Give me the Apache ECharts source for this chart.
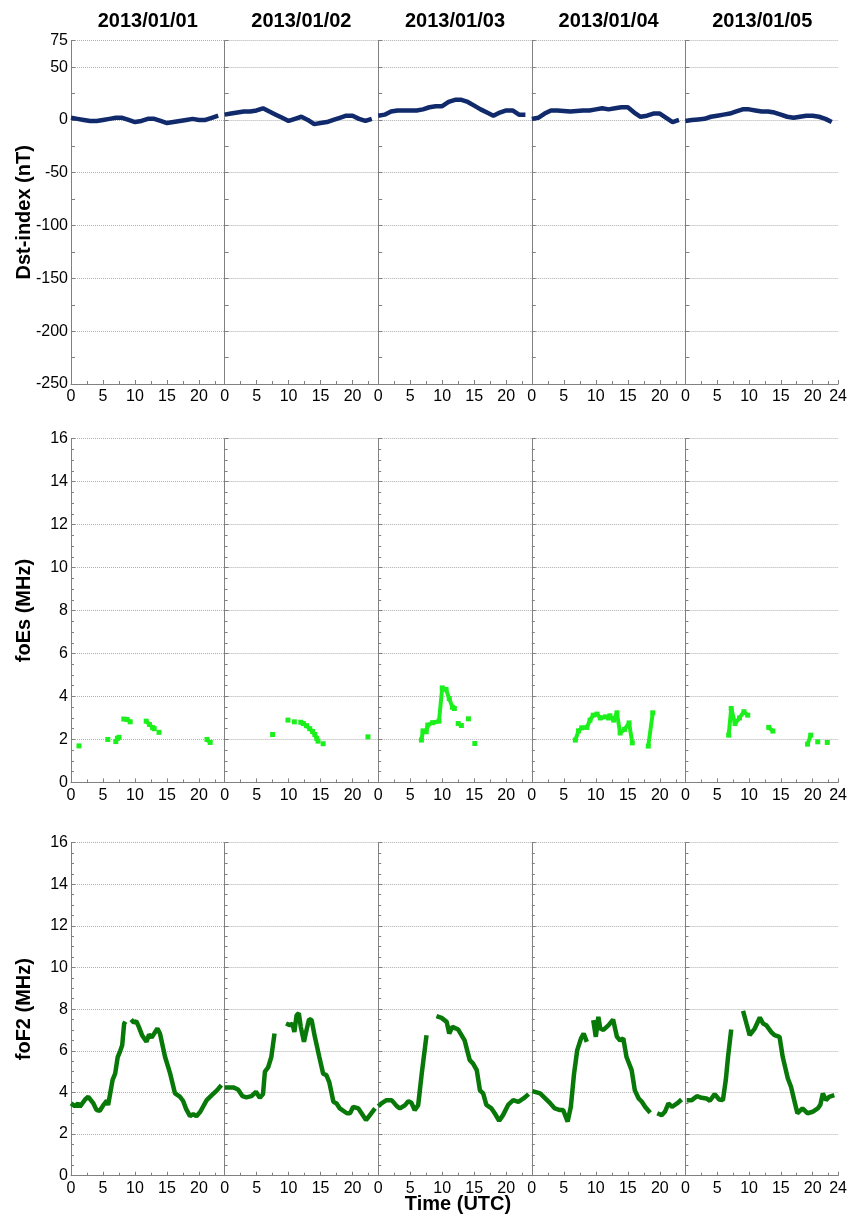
<!DOCTYPE html>
<html><head><meta charset="utf-8">
<script src="https://cdn.jsdelivr.net/npm/echarts@6/dist/echarts.min.js"></script>
<style>html,body{margin:0;padding:0;background:#fff}#c{width:850px;height:1216px}</style>
</head><body><div id="c"></div><script>
// ---------------- data ----------------
const days = ['2013/01/01', '2013/01/02', '2013/01/03', '2013/01/04', '2013/01/05'];
const xTicks = [0, 5, 10, 15, 20, 24];

// Dst-index (nT), hourly values at UTC hours 0..23
const dstDay1 = [2, 1, 0, -1, -1, 0, 1, 2, 2, 0, -2, -1, 1, 1, -1, -3, -2, -1, 0, 1, 0, 0, 2, 4];
const dstDay2 = [5, 6, 7, 8, 8, 9, 11, 8, 5, 2, -1, 1, 3, 0, -4, -3, -2, 0, 2, 4, 4, 1, -1, 1];
const dstDay3 = [4, 5, 8, 9, 9, 9, 9, 10, 12, 13, 13, 17, 19, 19, 17, 13.5, 10, 7, 4, 7, 9, 9, 5, 5];
const dstDay4 = [1, 2, 6, 9, 9, 8.5, 8, 8.5, 9, 9, 10, 11, 10, 11, 12, 12, 7, 3, 4, 6, 6, 2, -2, 0];
const dstDay5 = [-1, 0, 0.5, 1, 3, 4, 5, 6, 8, 10, 10, 9, 8, 8, 7, 5, 3, 2, 3, 4, 4, 3, 1, -2];

// foEs (MHz): [hour, value]; null = gap
const foEsDay1 = [[1.25,1.7],null,[5.75,2.0],null,[7.0,1.9],[7.25,2.05],[7.5,2.1],null,[8.25,2.95],[8.75,2.93],[9.25,2.82],null,[11.75,2.85],[12.25,2.7],[12.75,2.55],[13.0,2.5],null,[13.75,2.33],null,[21.25,2.0],[21.75,1.86]];
const foEsDay2 = [[7.5,2.23],null,[9.9,2.9],null,[10.9,2.82],null,[11.9,2.8],[12.3,2.74],[12.8,2.64],[13.3,2.5],[13.75,2.37],[14.1,2.23],[14.4,2.05],[14.6,1.92],null,[15.4,1.8],null,[22.4,2.12]];
const foEsDay3 = [[6.75,1.97],[7.0,2.4],[7.5,2.36],[7.75,2.67],[8.5,2.78],[9.5,2.85],[10.0,4.4],[10.6,4.33],[11.1,3.9],[11.6,3.5],[11.9,3.44],null,[12.5,2.74],[13.0,2.65],null,[14.1,2.96],null,[15.1,1.81]];
const foEsDay4 = [[6.8,1.97],[7.3,2.4],[7.8,2.54],[8.6,2.56],[9.1,2.9],[9.6,3.13],[10.2,3.18],[10.7,3.0],[11.5,3.05],[12.0,3.0],[12.2,3.1],[12.8,2.9],[13.3,3.24],[13.8,2.3],[14.5,2.47],[15.2,2.77],[15.7,1.84],null,[18.2,1.69],[18.9,3.24]];
const foEsDay5 = [[6.8,2.2],[7.2,3.44],[7.8,2.74],[8.5,3.0],[9.2,3.29],[9.8,3.13],null,[13.1,2.56],[13.75,2.39],null,[19.2,1.78],[19.7,2.2],null,[20.8,1.89],null,[22.3,1.86]];

// foF2 (MHz): [hour, value]; null = gap
const foF2Day1 = [[0,3.47],[0.6,3.34],[1.1,3.47],[1.4,3.31],[2.2,3.66],[2.7,3.79],[3.5,3.47],[4.0,3.15],[4.5,3.12],[5.05,3.39],[5.6,3.6],[5.8,3.39],[6.1,3.34],[6.5,4.6],[6.9,4.9],[7.3,5.7],[7.7,6.0],[8.0,6.27],[8.3,7.3],[8.5,7.4],null,[9.4,7.5],[9.8,7.36],[10.2,7.42],[10.6,7.15],[11.1,6.75],[11.8,6.43],[12.2,6.78],[12.6,6.64],[13.0,6.83],[13.5,7.07],[13.9,6.83],[14.7,5.7],[15.5,4.9],[16.25,3.95],[17.0,3.8],[17.5,3.6],[18.0,3.2],[18.6,2.86],[19.1,2.96],[19.6,2.86],[20.2,3.07],[21.2,3.63],[22.0,3.87],[22.8,4.1],[23.5,4.35]];
const foF2Day2 = [[0,4.24],[1.35,4.24],[2.1,4.14],[2.8,3.82],[3.4,3.76],[4.2,3.82],[4.9,4.03],[5.5,3.74],[6.0,3.92],[6.3,5.0],[6.8,5.2],[7.3,5.7],[7.8,6.83],null,[9.6,7.31],[10.2,7.23],[10.6,7.31],[10.9,6.9],[11.25,7.71],[11.6,7.8],[11.9,7.15],[12.4,6.43],[12.8,7.0],[13.2,7.52],[13.6,7.47],[14.1,6.67],[14.8,5.7],[15.4,4.9],[15.9,4.83],[16.35,4.5],[17.0,3.55],[17.5,3.47],[18.0,3.23],[19.1,3.0],[19.6,3.0],[20.1,3.31],[20.9,3.23],[21.4,3.0],[22.1,2.67],[22.7,2.91],[23.5,3.23]];
const foF2Day3 = [[0,3.34],[0.5,3.47],[1.3,3.63],[2.1,3.63],[2.9,3.34],[3.4,3.23],[4.2,3.39],[4.7,3.58],[5.2,3.5],[5.7,3.15],[6.25,3.39],[6.8,4.9],[7.55,6.75],null,[9.1,7.66],[9.9,7.58],[10.7,7.39],[11.1,6.83],[11.6,7.15],[12.5,7.02],[13.5,6.5],[14.3,5.55],[14.8,5.4],[15.4,5.07],[15.9,4.1],[16.4,3.95],[16.9,3.4],[17.7,3.23],[18.2,3.0],[18.9,2.64],[19.5,2.91],[20.3,3.4],[21.1,3.63],[21.9,3.55],[22.7,3.71],[23.5,3.92]];
const foF2Day4 = [[0.1,4.06],[1.3,3.95],[2.1,3.71],[2.9,3.47],[3.6,3.23],[4.4,3.15],[4.9,3.15],[5.6,2.6],[6.1,3.31],[6.6,4.9],[7.1,6.03],[7.7,6.6],[8.1,6.83],[8.6,6.43],null,[9.6,7.47],[10.0,6.67],[10.4,7.63],[10.7,7.07],[11.2,7.0],[12.0,7.23],[12.7,7.5],[13.3,6.67],[13.8,6.5],[14.3,6.6],[14.8,5.7],[15.6,5.07],[16.1,4.1],[16.7,3.71],[17.2,3.55],[17.7,3.31],[18.5,3.02],null,[19.6,3.0],[20.3,2.91],[20.8,3.07],[21.35,3.47],[21.9,3.31],[22.7,3.47],[23.4,3.66]];
const foF2Day5 = [[0.2,3.63],[1.0,3.63],[1.8,3.82],[2.55,3.74],[3.3,3.71],[3.85,3.6],[4.6,3.92],[5.3,3.66],[5.9,3.63],[6.35,4.6],[6.7,5.7],[7.2,7.02],null,[9.06,7.92],[9.6,7.31],[10.1,6.75],[10.9,7.07],[11.7,7.6],[12.2,7.31],[12.7,7.23],[13.5,6.9],[14.0,6.75],[14.8,6.67],[15.3,5.7],[16.1,4.67],[16.6,4.27],[17.1,3.63],[17.6,3.0],[18.4,3.23],[19.2,3.0],[20.0,3.07],[20.8,3.23],[21.2,3.4],[21.6,3.95],[22.1,3.63],[22.6,3.79],[23.4,3.87]];

// ---------------- chart ----------------
const dstDays = [dstDay1, dstDay2, dstDay3, dstDay4, dstDay5];
const foEsDays = [foEsDay1, foEsDay2, foEsDay3, foEsDay4, foEsDay5];
const foF2Days = [foF2Day1, foF2Day2, foF2Day3, foF2Day4, foF2Day5];

const FONT = '"Liberation Sans", Arial, sans-serif';
const AX = '#808080';
const GL = 71, GW = 153.6;
const rows = [
  {top: 40.7, h: 343.3, name: 'Dst-index (nT)'},
  {top: 438.7, h: 343.7, name: 'foEs (MHz)'},
  {top: 842.6, h: 333.1, name: 'foF2 (MHz)'}
];

function toSeriesData(arr) { return arr.map(p => p === null ? ['-', '-'] : p); }

const grids = [], xAxes = [], yAxes = [], series = [];
for (let r = 0; r < 3; r++) {
  for (let c = 0; c < 5; c++) {
    const gi = grids.length;
    grids.push({left: GL + c * GW, top: rows[r].top, width: GW, height: rows[r].h, containLabel: false});
    xAxes.push({
      gridIndex: gi, type: 'value', min: 0, max: 24, interval: 5,
      axisLine: {show: true, onZero: false, lineStyle: {color: AX, width: 1}},
      axisTick: {show: true, inside: true, length: 4, lineStyle: {color: AX}},
      minorTick: {show: true, splitNumber: 2, length: 3, lineStyle: {color: AX}},
      splitLine: {show: false},
      axisLabel: {fontSize: 16, color: '#000', fontFamily: FONT, margin: 5, hideOverlap: false,
        showMinLabel: true, showMaxLabel: true,
        formatter: v => (xTicks.indexOf(v) < 0 || (v === 24 && c < 4)) ? '' : String(v)}
    });
    const mainY = yAxes.length;
    if (r === 0) {
      yAxes.push({
        gridIndex: gi, type: 'value', min: -250, max: 75, interval: 25,
        axisLine: {show: true, lineStyle: {color: AX, width: 1}},
        axisTick: {show: true, inside: true, length: 4, lineStyle: {color: AX}},
        splitLine: {show: false},
        axisLabel: {show: c === 0, fontSize: 16, color: '#000', fontFamily: FONT, margin: 3,
          showMinLabel: true, showMaxLabel: true,
          formatter: v => (v % 50 === 0 || v === 75) ? String(v) : ''}
      });
      yAxes.push({
        gridIndex: gi, type: 'value', min: -250, max: 75, interval: 50,
        axisLine: {show: false}, axisTick: {show: false}, axisLabel: {show: false},
        splitLine: {show: true, lineStyle: {type: 'dotted', color: '#b0b0b0', width: 1}}
      });
    } else {
      yAxes.push({
        gridIndex: gi, type: 'value', min: 0, max: 16, interval: 2,
        axisLine: {show: true, lineStyle: {color: AX, width: 1}},
        axisTick: {show: true, inside: true, length: 4, lineStyle: {color: AX}},
        minorTick: {show: true, splitNumber: 4, length: 3, lineStyle: {color: AX}},
        splitLine: {show: true, lineStyle: {type: 'dotted', color: '#b0b0b0', width: 1}},
        axisLabel: {show: c === 0, fontSize: 16, color: '#000', fontFamily: FONT, margin: 3,
          showMinLabel: true, showMaxLabel: true}
      });
    }
    if (r === 0) {
      series.push({type: 'line', xAxisIndex: gi, yAxisIndex: mainY,
        data: dstDays[c].map((v, h) => [h, v]),
        showSymbol: false, symbol: 'none',
        lineStyle: {color: '#102a6c', width: 4.5}, animation: false});
    } else if (r === 1) {
      series.push({type: 'line', xAxisIndex: gi, yAxisIndex: mainY,
        data: toSeriesData(foEsDays[c]), connectNulls: false,
        showSymbol: true, symbol: 'rect', symbolSize: 5,
        itemStyle: {color: '#1cf01c'},
        lineStyle: {color: '#1cf01c', width: 4}, animation: false});
    } else {
      series.push({type: 'line', xAxisIndex: gi, yAxisIndex: mainY,
        data: toSeriesData(foF2Days[c]), connectNulls: false,
        showSymbol: false, symbol: 'none',
        lineStyle: {color: '#087808', width: 4.5}, animation: false});
    }
  }
}

const graphics = [];
days.forEach((d, i) => {
  graphics.push({type: 'text', x: GL + GW * (i + 0.5), y: 21,
    style: {text: d, align: 'center', verticalAlign: 'middle', font: 'bold 20px ' + FONT, fill: '#000'}});
});
rows.forEach(rw => {
  graphics.push({type: 'text', x: 24, y: rw.top + rw.h / 2, rotation: Math.PI / 2,
    style: {text: rw.name, align: 'center', verticalAlign: 'middle', font: 'bold 20px ' + FONT, fill: '#000'}});
});
graphics.push({type: 'text', x: 458, y: 1204,
  style: {text: 'Time (UTC)', align: 'center', verticalAlign: 'middle', font: 'bold 20px ' + FONT, fill: '#000'}});

const chart = echarts.init(document.getElementById('c'), null, {renderer: 'canvas'});
chart.setOption({
  backgroundColor: '#fff',
  animation: false,
  grid: grids, xAxis: xAxes, yAxis: yAxes, series: series,
  graphic: graphics
});
</script></body></html>
